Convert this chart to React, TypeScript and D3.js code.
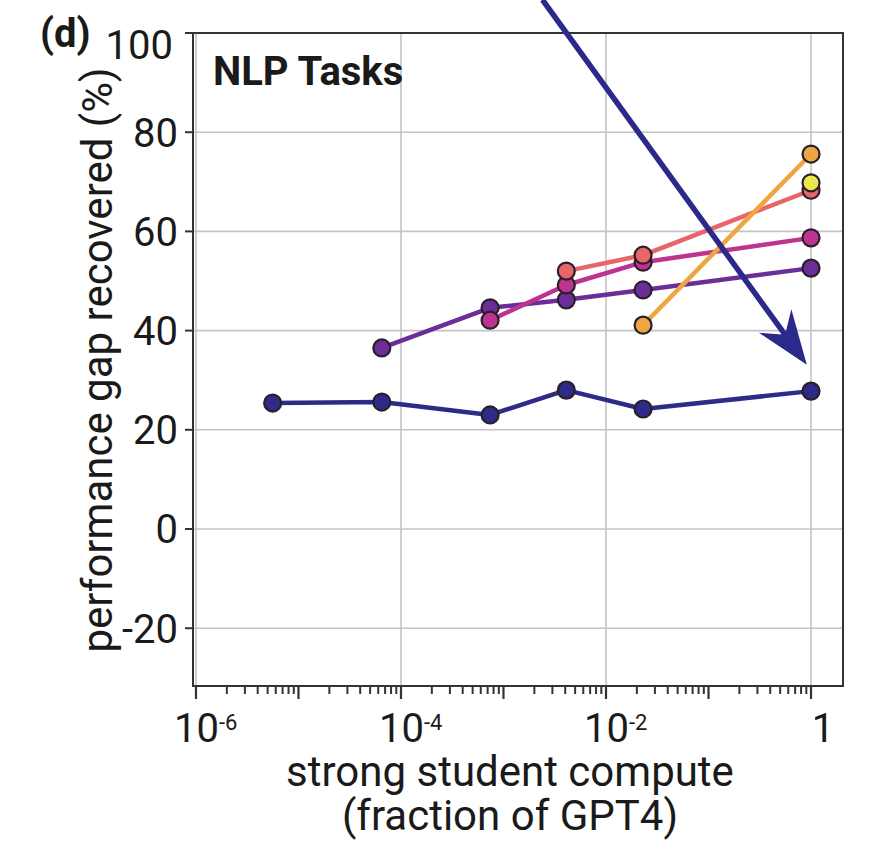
import React from "react";
import * as d3 from "d3";

const W = 869;
const H = 847;

// strong student compute (fraction of GPT4)
const computeNavy = [5.6e-6, 6.5e-5, 7.4e-4, 4.1e-3, 0.023, 1];
const valuesNavy = [25.4, 25.6, 23.0, 28.0, 24.2, 27.8];

const computePurple = [6.5e-5, 7.4e-4, 4.1e-3, 0.023, 1];
const valuesPurple = [36.5, 44.6, 46.2, 48.2, 52.6];

const computeMagenta = [7.4e-4, 4.1e-3, 0.023, 1];
const valuesMagenta = [42.1, 49.2, 53.8, 58.7];

const computeSalmon = [4.1e-3, 0.023, 1];
const valuesSalmon = [52.0, 55.2, 68.3];

const computeOrange = [0.023, 1];
const valuesOrange = [41.1, 75.6];

const computeYellow = [1];
const valuesYellow = [69.8];

const seriesColors = ["#2e2b87", "#6b2e98", "#bc3490", "#e8666a", "#eea640", "#e8e84a"];

const yTicks = [-20, 0, 20, 40, 60, 80, 100];
const xMajorExps = [-6, -5, -4, -3, -2, -1, 0];
const xLabelExps = [-6, -4, -2, 0];

// annotation arrow in data units: [compute, percent]
const arrowStart: [number, number] = [0.0024, 106.7];
const arrowEnd: [number, number] = [0.91, 33.1];

const series = [
  { x: computeNavy, y: valuesNavy },
  { x: computePurple, y: valuesPurple },
  { x: computeMagenta, y: valuesMagenta },
  { x: computeSalmon, y: valuesSalmon },
  { x: computeOrange, y: valuesOrange },
  { x: computeYellow, y: valuesYellow },
];

export default function App() {
  const left = 193, right = 843, top = 33, bottom = 686;
  const x = d3.scaleLog().domain([Math.pow(10, -6.029), Math.pow(10, 0.312)]).range([left, right]);
  const y = d3.scaleLinear().domain([-31.65, 100]).range([bottom, top]);
  const font = "Roboto, 'Noto Sans', sans-serif";
  const line = d3.line<[number, number]>().x((d) => x(d[0])).y((d) => y(d[1]));

  const minor: number[] = [];
  for (let e = -6; e < 0; e++) for (let m = 2; m <= 9; m++) minor.push(m * Math.pow(10, e));

  // arrow geometry
  const ax0 = x(arrowStart[0]), ay0 = y(arrowStart[1]);
  const ax1 = x(arrowEnd[0]), ay1 = y(arrowEnd[1]);
  const dx = ax1 - ax0, dy = ay1 - ay0;
  const len = Math.sqrt(dx * dx + dy * dy);
  const ux = dx / len, uy = dy / len;
  const px = -uy, py = ux;
  const headLen = 54, halfW = 20, notch = 37;
  const bx = ax1 - ux * headLen, by = ay1 - uy * headLen;
  const nx = ax1 - ux * notch, ny = ay1 - uy * notch;
  const head = `M${ax1},${ay1} L${bx + px * halfW},${by + py * halfW} L${nx},${ny} L${bx - px * halfW},${by - py * halfW} Z`;

  return (
    <svg width={W} height={H} style={{ position: "absolute", left: 0, top: 0, background: "#fff" }}>
      {/* grid */}
      {yTicks.filter((t) => t < 100).map((t) => (
        <line key={"gy" + t} x1={left} x2={right} y1={y(t)} y2={y(t)} stroke="#c4c4c4" strokeWidth={1.6} />
      ))}
      {xLabelExps.map((e) => (
        <line key={"gx" + e} x1={x(Math.pow(10, e))} x2={x(Math.pow(10, e))} y1={top} y2={bottom} stroke="#c4c4c4" strokeWidth={1.6} />
      ))}
      {/* frame */}
      <rect x={left} y={top} width={right - left} height={bottom - top} fill="none" stroke="#333" strokeWidth={2} />
      {/* y ticks */}
      {yTicks.map((t) => (
        <g key={"yt" + t}>
          <line x1={left - 8} x2={left} y1={y(t)} y2={y(t)} stroke="#333" strokeWidth={2} />
          <text x={t === 100 ? left - 20 : left - 15} y={t === 100 ? y(t) + 12 : y(t)} dy="0.36em" textAnchor="end" fontFamily={font} fontSize={40} fill="#1a1a1a">
            {t}
          </text>
        </g>
      ))}
      {/* x ticks */}
      {xMajorExps.map((e) => (
        <line key={"xM" + e} x1={x(Math.pow(10, e))} x2={x(Math.pow(10, e))} y1={bottom} y2={bottom + 13} stroke="#333" strokeWidth={2.2} />
      ))}
      {minor.map((v, i) => (
        <line key={"xm" + i} x1={x(v)} x2={x(v)} y1={bottom} y2={bottom + 8} stroke="#333" strokeWidth={2} />
      ))}
      {xLabelExps.map((e) => (
        <text key={"xl" + e} x={e === 0 ? x(1) + 12 : x(Math.pow(10, e)) - 22} y={742} textAnchor={e === 0 ? "middle" : "start"} fontFamily={font} fontSize={40} fill="#1a1a1a">
          {e === 0 ? (
            "1"
          ) : (
            <>
              <tspan>10</tspan>
              <tspan dy={-12} fontSize={22}>{String(e)}</tspan>
            </>
          )}
        </text>
      ))}
      {/* axis titles */}
      <text x={510} y={786} textAnchor="middle" fontFamily={font} fontSize={42} fill="#1a1a1a">strong student compute</text>
      <text x={510} y={830} textAnchor="middle" fontFamily={font} fontSize={42} fill="#1a1a1a">(fraction of GPT4)</text>
      <text transform={`translate(112,360) rotate(-90)`} textAnchor="middle" fontFamily={font} fontSize={42} fill="#1a1a1a">
        performance gap recovered (%)
      </text>
      <text x={213} y={85} fontFamily={font} fontSize={40} fontWeight="bold" fill="#1a1a1a">NLP Tasks</text>
      <text x={40} y={47} fontFamily={font} fontSize={40} fontWeight="bold" fill="#1a1a1a">(d)</text>
      {/* series */}
      {series.map((s, i) => {
        const pts: [number, number][] = s.x.map((v, j) => [v, s.y[j]]);
        return (
          <g key={"s" + i}>
            {pts.length > 1 && (
              <path d={line(pts) || ""} fill="none" stroke={seriesColors[i]} strokeWidth={4.5} strokeLinejoin="round" />
            )}
            {pts.map((p, j) => (
              <circle key={j} cx={x(p[0])} cy={y(p[1])} r={8.5} fill={seriesColors[i]} stroke="#2a1f2a" strokeWidth={2.2} />
            ))}
          </g>
        );
      })}
      {/* arrow */}
      <line x1={ax0} y1={ay0} x2={nx + ux * 2} y2={ny + uy * 2} stroke="#2b2a8a" strokeWidth={5.5} />
      <path d={head} fill="#2b2a8a" />
    </svg>
  );
}
